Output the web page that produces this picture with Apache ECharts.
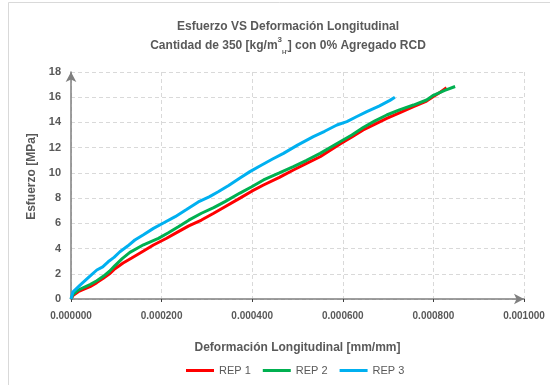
<!DOCTYPE html>
<html><head><meta charset="utf-8">
<script src="https://cdn.jsdelivr.net/npm/echarts@6/dist/echarts.min.js"></script>
<style>html,body{margin:0;padding:0;background:#fff}#c{width:550px;height:385px}</style>
</head><body><div id="c"></div>
<script>
const seriesNames = ['REP 1', 'REP 2', 'REP 3'];
const seriesColors = ['#FF0000', '#00B050', '#00B0F0'];
const xTicks = [0, 0.0002, 0.0004, 0.0006, 0.0008, 0.001];
const yTicks = [0, 2, 4, 6, 8, 10, 12, 14, 16, 18];
const rep1 = [[0,0],[0.000005,0.3],[0.000016,0.58],[0.00003,0.8],[0.000042,0.98],[0.000057,1.3],[0.0000713,1.64],[0.000085,2.0],[0.0000971,2.4],[0.000115,2.85],[0.000134,3.25],[0.00016,3.8],[0.000182,4.28],[0.00021,4.8],[0.000237,5.34],[0.00026,5.8],[0.000288,6.26],[0.000315,6.8],[0.00034,7.32],[0.000373,8.0],[0.000399,8.55],[0.000425,9.04],[0.00046,9.65],[0.000491,10.23],[0.00052,10.75],[0.00055,11.28],[0.000594,12.3],[0.00062,12.85],[0.000645,13.4],[0.00067,13.85],[0.000697,14.33],[0.000725,14.75],[0.000756,15.25],[0.000785,15.7],[0.0008,16.05],[0.000815,16.4],[0.000829,16.75]];
const rep2 = [[0,0],[0.000005,0.4],[0.000016,0.71],[0.00003,0.95],[0.000042,1.15],[0.000057,1.45],[0.0000713,1.8],[0.000085,2.2],[0.0000971,2.65],[0.000113,3.2],[0.00013,3.7],[0.00016,4.3],[0.000193,4.81],[0.000215,5.25],[0.000237,5.73],[0.00026,6.25],[0.000288,6.8],[0.000315,7.25],[0.00034,7.72],[0.000373,8.4],[0.000399,8.9],[0.000425,9.44],[0.00046,10.0],[0.000491,10.5],[0.00052,11.0],[0.00055,11.55],[0.000594,12.47],[0.00062,13.0],[0.000645,13.6],[0.00067,14.1],[0.000697,14.59],[0.000725,15.0],[0.000756,15.38],[0.000785,15.78],[0.0008,16.15],[0.000825,16.55],[0.000848,16.85]];
const rep3 = [[0,0],[0.000004,0.55],[0.00002,1.1],[0.00004,1.75],[0.000057,2.3],[0.00007,2.55],[0.000082,2.95],[0.000095,3.3],[0.000108,3.75],[0.000125,4.2],[0.000141,4.68],[0.00016,5.1],[0.000182,5.6],[0.000205,6.05],[0.00023,6.53],[0.000255,7.1],[0.000281,7.7],[0.000305,8.1],[0.000325,8.5],[0.000348,9.0],[0.000373,9.6],[0.000395,10.1],[0.000417,10.55],[0.000445,11.1],[0.000469,11.55],[0.0005,12.2],[0.000535,12.87],[0.00056,13.3],[0.000587,13.8],[0.000609,14.06],[0.00063,14.45],[0.000653,14.85],[0.00068,15.3],[0.000704,15.75],[0.000715,16.0]];
const allData = [rep1, rep2, rep3];

const FONT = '"Liberation Sans", Arial, sans-serif';
const chart = echarts.init(document.getElementById('c'), null, {renderer: 'canvas'});
chart.setOption({
  animation: false,
  backgroundColor: '#fff',
  graphic: [{type: 'rect', shape: {x: 8.5, y: 2.5, width: 600, height: 600}, style: {fill: 'none', stroke: '#d9d9d9', lineWidth: 1}, silent: true, z: -1}],
  title: {
    left: 283, top: 12, textAlign: 'center',
    text: '{t|Esfuerzo VS Deformación Longitudinal}\n{t|Cantidad de 350 [kg/m}{sup|3}{sub|H\'}{t|] con 0% Agregado RCD}',
    textStyle: {
      rich: {
        t: {fontFamily: FONT, fontSize: 12, fontWeight: 'bold', color: '#595959', lineHeight: 19},
        sup: {fontFamily: FONT, fontSize: 8, fontWeight: 'bold', color: '#595959', verticalAlign: 'top', lineHeight: 19, padding: [0,0,6,0]},
        sub: {fontFamily: FONT, fontSize: 6, fontWeight: 'bold', color: '#595959', verticalAlign: 'bottom', lineHeight: 19, padding: [6,0,0,0]}
      }
    }
  },
  grid: {left: 71, right: 26, top: 72, bottom: 86, containLabel: false},
  legend: {
    bottom: 4, left: 181, icon: 'rect', itemWidth: 28, itemHeight: 3, itemGap: 12,
    textStyle: {fontFamily: FONT, fontSize: 11, color: '#595959'},
    data: seriesNames
  },
  xAxis: {
    type: 'value', min: xTicks[0], max: xTicks[xTicks.length - 1], interval: 0.0002,
    name: 'Deformación Longitudinal [mm/mm]', nameLocation: 'middle', nameGap: 43,
    nameTextStyle: {fontFamily: FONT, fontSize: 12, fontWeight: 'bold', color: '#595959'},
    axisLine: {show: true, onZero: false, symbol: ['none', 'arrow'], symbolSize: [8, 10], lineStyle: {color: '#7f7f7f', width: 1.5}},
    axisTick: {show: true, inside: false, length: 3, lineStyle: {color: '#404040'}},
    axisLabel: {fontFamily: FONT, fontSize: 10, fontWeight: 'bold', color: '#595959', margin: 12, formatter: v => v.toFixed(6)},
    splitLine: {show: true, lineStyle: {color: '#d9d9d9', type: [4, 3], width: 1}}
  },
  yAxis: {
    type: 'value', min: yTicks[0], max: yTicks[yTicks.length - 1], interval: 2,
    name: 'Esfuerzo [MPa]', nameLocation: 'middle', nameGap: 32,
    nameTextStyle: {fontFamily: FONT, fontSize: 12, fontWeight: 'bold', color: '#595959', padding: [0, 0, 0, 18]},
    axisLine: {show: true, symbol: ['none', 'arrow'], symbolSize: [8, 10], lineStyle: {color: '#7f7f7f', width: 1.5}},
    axisTick: {show: false},
    axisLabel: {fontFamily: FONT, fontSize: 11, fontWeight: 'bold', color: '#595959', margin: 10},
    splitLine: {show: true, lineStyle: {color: '#d9d9d9', type: [4, 3], width: 1}}
  },
  series: allData.map((d, i) => ({
    name: seriesNames[i], type: 'line', data: d, showSymbol: false, symbol: 'none',
    lineStyle: {color: seriesColors[i], width: 3}, itemStyle: {color: seriesColors[i]}, z: 3 + i
  }))
});
</script></body></html>
